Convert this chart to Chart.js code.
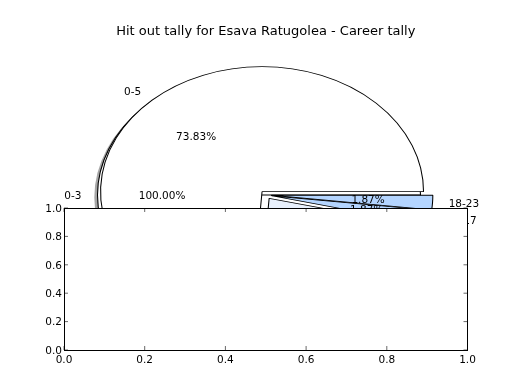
<!DOCTYPE html>
<html>
<head>
<meta charset="utf-8">
<title>Hit out tally</title>
<script src="https://cdn.jsdelivr.net/npm/chart.js@4.4.0/dist/chart.umd.min.js"></script>
<style>
  body { margin: 0; background: #fff; }
  #wrap { position: relative; width: 520px; height: 390px; }
  #wrap canvas { position: absolute; left: 0; top: 0; }
</style>
</head>
<body>
<div id="wrap">
  <canvas id="pieChart" width="520" height="390"></canvas>
  <canvas id="axesChart" width="520" height="390"></canvas>
</div>
<script>
// Career tally, slices run anticlockwise from 3 o'clock
const careerLabels = ['0-5', '6-11', '12-17', '18-23'];
const careerValues = [79, 24, 2, 2];
const careerColors = ['#ffffff', '#e8f0fc', '#b4d5ff', '#b4d5ff'];
const careerExplode = [0.036, 0.033, 0.033, 0.033];   // fraction of the radius

// Season tally, drawn underneath
const seasonLabels = ['0-3'];
const seasonValues = [7];
const seasonColors = ['#ffffff'];

// Ticks of the empty axes
const tickValues = [0, 0.2, 0.4, 0.6, 0.8, 1.0];

const FONT = 'DejaVu Sans';
Chart.defaults.font.family = FONT;
Chart.defaults.color = '#000';

// where each pie lands on the page (the axes are not equal so pies are ellipses)
const ellipses = {
    career: { cx: 266, cy: 195, rx: 161.5, ry: 125 },
    season: { cx: 259, cy: 195, rx: 161.5, ry: 125 }
};
const SHADOW = 'rgba(77, 77, 77, 0.5)';

function pieLabels(chart, index, labels) {
    const ds = chart.data.datasets[index];
    const g = ellipses[ds.geo];
    const ex = ds.explode || [];
    const meta = chart.getDatasetMeta(index);
    const total = ds.data.reduce((a, b) => a + b, 0);
    const ctx = chart.ctx;
    ctx.save();
    ctx.fillStyle = '#000';
    ctx.font = '10.5px "' + FONT + '"';
    ctx.textBaseline = 'middle';
    meta.data.forEach((arc, i) => {
        const mid = (arc.startAngle + arc.endAngle) / 2;
        const shift = ex[i] || 0;
        const c = Math.cos(mid), s = Math.sin(mid);
        ctx.textAlign = c < 0 ? 'right' : 'left';
        ctx.fillText(labels[i], g.cx + (1.1 + shift) * g.rx * c, g.cy - (1.1 + shift) * g.ry * s + 1);
        ctx.textAlign = 'center';
        const pct = (ds.data[i] / total * 100).toFixed(2) + '%';
        ctx.fillText(pct, g.cx + (0.6 + shift) * g.rx * c, g.cy - (0.6 + shift) * g.ry * s + 1);
    });
    ctx.restore();
}

// squash each circular pie into its ellipse, flipped so it runs anticlockwise
const ellipsePie = {
    id: 'ellipsePie',
    afterDatasetsUpdate(chart) {
        let R = 0;
        chart.data.datasets.forEach((ds, i) => {
            chart.getDatasetMeta(i).data.forEach(a => { R = Math.max(R, a.outerRadius); });
        });
        chart.data.datasets.forEach((ds, i) => {
            const ex = ds.explode || [];
            chart.getDatasetMeta(i).data.forEach((a, j) => {
                a.innerRadius = 0;
                a.outerRadius = R;
                a.$cx = a.x;
                a.$cy = a.y;
                // explode the slice along its middle angle
                const mid = (a.startAngle + a.endAngle) / 2;
                a.x += Math.cos(mid) * (ex[j] || 0) * R;
                a.y += Math.sin(mid) * (ex[j] || 0) * R;
            });
        });
        chart.$R = R;
    },
    beforeDatasetDraw(chart, args) {
        const ds = chart.data.datasets[args.index];
        const g = ellipses[ds.geo];
        const arc = args.meta.data[0];
        const ctx = chart.ctx;
        ctx.save();
        ctx.translate(g.cx + (ds.shadow ? -3.2 : 0), g.cy + (ds.shadow ? 2.5 : 0));
        ctx.scale(g.rx / chart.$R, -g.ry / chart.$R);
        ctx.translate(-arc.$cx, -arc.$cy);
    },
    afterDatasetDraw(chart) {
        chart.ctx.restore();
    },
    afterDatasetsDraw(chart) {
        pieLabels(chart, 1, seasonLabels);
        pieLabels(chart, 0, careerLabels);
    }
};

new Chart(document.getElementById('pieChart'), {
    type: 'pie',
    data: {
        labels: careerLabels,
        datasets: [
            { label: 'Career', data: careerValues, backgroundColor: careerColors, borderColor: '#000',
              borderWidth: 1.1, explode: careerExplode, order: 1, clip: false, geo: 'career' },
            { label: 'Season', data: seasonValues, backgroundColor: seasonColors, borderColor: '#000',
              borderWidth: 1.1, order: 2, clip: false, geo: 'season' },
            { label: 'Career shadow', data: careerValues, backgroundColor: SHADOW, borderWidth: 0,
              explode: careerExplode, order: 3, clip: false, geo: 'career', shadow: true },
            { label: 'Season shadow', data: seasonValues, backgroundColor: SHADOW, borderWidth: 0,
              order: 4, clip: false, geo: 'season', shadow: true }
        ]
    },
    options: {
        responsive: false,
        animation: false,
        devicePixelRatio: 1,
        events: [],
        rotation: 90,
        layout: { padding: { left: 11.5 } },
        plugins: {
            legend: { display: false },
            tooltip: { enabled: false },
            title: {
                display: true,
                text: 'Hit out tally for Esava Ratugolea - Career tally',
                color: '#000',
                font: { size: 13, weight: 'normal', family: FONT },
                padding: { top: 24, bottom: 10 }
            }
        }
    },
    plugins: [ellipsePie]
});

// empty axes laid over the lower half of the pies
const axesFrame = {
    id: 'axesFrame',
    beforeDraw(chart) {
        const { ctx, chartArea: a } = chart;
        ctx.save();
        ctx.fillStyle = '#fff';
        ctx.fillRect(a.left, a.top, a.right - a.left, a.bottom - a.top);
        ctx.restore();
    },
    afterDraw(chart) {
        const { ctx, chartArea: a, scales } = chart;
        ctx.save();
        ctx.strokeStyle = '#000';
        ctx.lineWidth = 0.6;
        ctx.beginPath();
        tickValues.forEach(v => {
            const x = scales.x.getPixelForValue(v);
            ctx.moveTo(x, a.bottom); ctx.lineTo(x, a.bottom - 4);
            ctx.moveTo(x, a.top); ctx.lineTo(x, a.top + 4);
            const y = scales.y.getPixelForValue(v);
            ctx.moveTo(a.left, y); ctx.lineTo(a.left + 4, y);
            ctx.moveTo(a.right, y); ctx.lineTo(a.right - 4, y);
        });
        ctx.stroke();
        ctx.lineWidth = 1;
        ctx.strokeRect(Math.round(a.left) + 0.5, Math.round(a.top) + 0.5,
                       Math.round(a.right) - Math.round(a.left) - 1, Math.round(a.bottom) - Math.round(a.top));
        ctx.restore();
    }
};

function axisOpts(fit, pad, shift) {
    return {
        type: 'linear',
        min: 0,
        max: 1,
        afterBuildTicks: s => { s.ticks = tickValues.map(v => ({ value: v })); },
        afterFit: fit,
        grid: { display: false, drawTicks: false },
        border: { display: false },
        ticks: {
            padding: pad,
            labelOffset: shift,
            color: '#000',
            autoSkip: false,
            maxRotation: 0,
            font: { size: 10.5, family: FONT },
            callback: v => Number(v).toFixed(1)
        }
    };
}

new Chart(document.getElementById('axesChart'), {
    type: 'scatter',
    data: { datasets: [{ data: [] }] },
    options: {
        responsive: false,
        animation: false,
        devicePixelRatio: 1,
        events: [],
        layout: { padding: { top: 208, right: 52.5, left: 0, bottom: 0 } },
        plugins: { legend: { display: false }, tooltip: { enabled: false } },
        scales: {
            x: axisOpts(s => { s.height = 40; }, 4, 0),
            y: axisOpts(s => { s.width = 64; }, 2, 1)
        }
    },
    plugins: [axesFrame]
});
</script>
</body>
</html>
